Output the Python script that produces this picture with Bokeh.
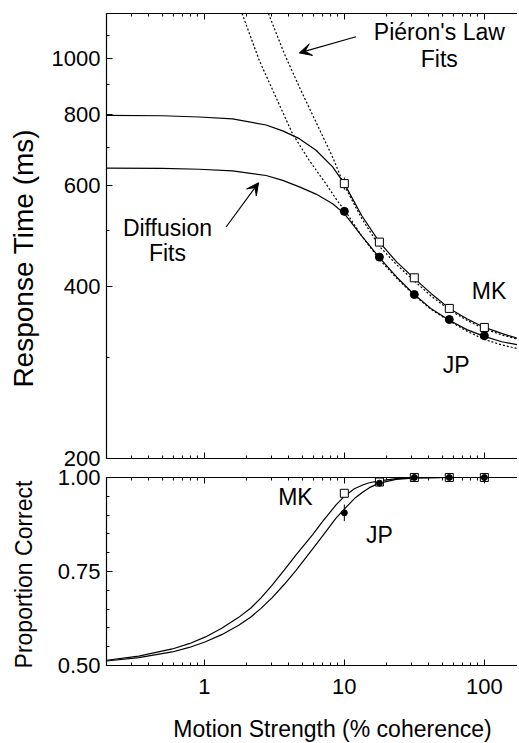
from math import pi
from bokeh.plotting import figure
from bokeh.models import (FixedTicker, Label, Arrow, VeeHead, LogAxis,
                          LinearAxis, Range1d, LinearScale)
from bokeh.embed import file_html
from bokeh.resources import INLINE

FONT = "Liberation Sans"

# ---------------- data ----------------
coherence = [10, 17.8, 31.6, 56.2, 100]
mk_rt = [605, 478, 414, 366, 339]
jp_rt = [541, 450, 387, 350, 328]
mk_rt_err = [15, 8, 5, 4, 3]
jp_rt_err = [9, 6, 4, 3, 3]

mk_pc = [0.958, 0.988, 1.0, 1.0, 1.0]
jp_pc = [0.906, 0.985, 1.0, 1.0, 1.0]
mk_pc_err = [0.008, 0.004, 0.0, 0.0, 0.0]
jp_pc_err = [0.022, 0.005, 0.0, 0.0, 0.0]

diff_x = [0.2, 0.5, 0.92, 1.59, 2.76, 3.63, 4.77, 6.28, 8.25, 10, 13.3, 17.8,
          23.7, 31.6, 42, 56.2, 75, 100, 133, 175]
mk_diffusion = [796, 795, 791, 785, 766, 748, 725, 692, 647, 605, 532, 478,
                441, 413, 388, 366, 351, 339, 331, 324]
jp_diffusion = [644, 643, 641, 637, 625, 613, 597, 580, 558, 536, 490, 449,
                415, 387, 365, 349, 336, 327, 320, 316]

mk_pieron_x = [2.87, 3.73, 4.9, 6.45, 8.25, 10, 13.3, 17.8, 23.7, 31.6, 42,
               56.2, 75, 100, 133, 175]
mk_pieron = [1200, 1020, 880, 764, 673, 600, 526, 470, 436, 409, 384, 364,
             349, 337, 329, 323]
jp_pieron_x = [1.86, 2.47, 3.25, 4.27, 5.62, 7.4, 9.21, 10, 13.3, 17.8, 23.7,
               31.6, 42, 56.2, 75, 100, 133, 175]
jp_pieron = [1200, 993, 856, 739, 664, 604, 558, 545, 490, 446, 413, 386, 364,
             348, 334, 323, 316, 311]

psy_x = [0.2, 0.34, 0.59, 0.78, 1.02, 1.33, 1.76, 2.15, 2.54, 3.04, 3.73, 4.52,
         5.94, 7.0, 8.72, 10, 11.8, 13.5, 15.1, 17.8, 23.4, 32, 56, 175]
mk_psy = [0.514, 0.525, 0.544, 0.558, 0.576, 0.599, 0.628, 0.653, 0.680,
          0.713, 0.754, 0.794, 0.848, 0.883, 0.927, 0.950, 0.970, 0.980,
          0.986, 0.991, 0.997, 0.999, 1.0, 1.0]
jp_psy = [0.512, 0.521, 0.536, 0.548, 0.563, 0.582, 0.607, 0.629, 0.652,
          0.680, 0.716, 0.753, 0.810, 0.845, 0.892, 0.916, 0.944, 0.961,
          0.973, 0.985, 0.995, 0.999, 1.0, 1.0]

rt_tick_vals = [200, 400, 600, 800, 1000]
rt_tick_labels = ["200", "400", "600", "800", "1000"]
rt_minor_vals = [300, 500, 700, 900, 1100]
pc_tick_vals = [0.5, 0.75, 1.0]
pc_tick_labels = ["0.50", "0.75", "1.00"]
pc_minor_vals = [0.55, 0.6, 0.65, 0.7, 0.8, 0.85, 0.9, 0.95]
x_tick_vals = [1, 10, 100]
x_tick_labels = ["1", "10", "100"]
x_minor_vals = [0.2, 0.3, 0.4, 0.5, 0.6, 0.7, 0.8, 0.9, 2, 3, 4, 5, 6, 7, 8, 9,
                20, 30, 40, 50, 60, 70, 80, 90]

# panel limits
X_MIN, X_MAX = 0.2, 172.5
RT_MIN, RT_MAX = 200, 1200
PC_MIN, PC_MAX = 0.5, 1.0

# ---------------- helpers ----------------
TICK_FS = "22px"
TEXT_FS = "23px"


def style_axis(ax, ticks, minor, labels=None, standoff=6):
    ax.ticker = FixedTicker(ticks=ticks, minor_ticks=minor)
    ax.major_tick_in = 6
    ax.major_tick_out = 0
    ax.minor_tick_in = 3
    ax.minor_tick_out = 0
    ax.axis_line_color = "black"
    ax.axis_line_width = 1.2
    ax.major_tick_line_color = "black"
    ax.minor_tick_line_color = "black"
    ax.major_label_text_font = FONT
    if labels is not None:
        ax.major_label_overrides = {t: l for t, l in zip(ticks, labels)}
        ax.major_label_text_font_size = TICK_FS
        ax.major_label_text_color = "black"
        ax.major_label_standoff = standoff
    else:
        ax.major_label_text_font_size = "1px"
        ax.major_label_text_color = None
        ax.major_label_standoff = 0


# The frame covers the whole canvas; both panels live in it, each on its
# own y range (response time: log, default; proportion correct: linear "pc").
p = figure(frame_width=517, frame_height=742, x_axis_type="log",
           y_axis_type="log", x_axis_location=None, y_axis_location=None,
           x_range=Range1d(0.035, X_MAX), y_range=Range1d(63.73, 1264.6),
           output_backend="svg", toolbar_location=None,
           min_border_left=0, min_border_right=0, min_border_top=0,
           min_border_bottom=0)
p.title.visible = False
p.extra_y_ranges = {"pc": Range1d(0.2952, 2.2686)}
p.extra_y_scales = {"pc": LinearScale()}
p.outline_line_color = None
p.grid.visible = False

# ---- axes (all at fixed data locations inside the frame) ----
rt_left = LogAxis(fixed_location=X_MIN, bounds=(RT_MIN, RT_MAX))
style_axis(rt_left, rt_tick_vals, rt_minor_vals, rt_tick_labels, standoff=6)
p.add_layout(rt_left, "left")

pc_left = LinearAxis(y_range_name="pc", fixed_location=X_MIN,
                     bounds=(PC_MIN, PC_MAX))
style_axis(pc_left, pc_tick_vals, pc_minor_vals, pc_tick_labels, standoff=6)
p.add_layout(pc_left, "left")

rt_top = LogAxis(fixed_location=RT_MAX, bounds=(X_MIN, X_MAX))
style_axis(rt_top, x_tick_vals, x_minor_vals, None)
p.add_layout(rt_top, "above")

rt_bottom = LogAxis(fixed_location=RT_MIN, bounds=(X_MIN, X_MAX))
style_axis(rt_bottom, x_tick_vals, x_minor_vals, None)
p.add_layout(rt_bottom, "below")

pc_top = LogAxis(fixed_location=PC_MAX, y_range_name="pc",
                 bounds=(X_MIN, X_MAX))
style_axis(pc_top, x_tick_vals, x_minor_vals, None)
p.add_layout(pc_top, "above")

pc_bottom = LogAxis(fixed_location=PC_MIN, y_range_name="pc",
                    bounds=(X_MIN, X_MAX))
style_axis(pc_bottom, x_tick_vals, x_minor_vals, x_tick_labels, standoff=14)
p.add_layout(pc_bottom, "below")

# ---- axis titles ----
p.add_layout(Label(x=0.0511, y=448, text="Response Time (ms)", angle=pi / 2,
                   text_font=FONT, text_font_size="28px", text_align="center",
                   text_baseline="middle", text_color="black"))
p.add_layout(Label(x=0.0511, y=0.742, y_range_name="pc",
                   text="Proportion Correct", angle=pi / 2, text_font=FONT,
                   text_font_size=TEXT_FS, text_align="center",
                   text_baseline="middle", text_color="black"))
p.add_layout(Label(x=8.23, y=0.332, y_range_name="pc",
                   text="Motion Strength (% coherence)", text_font=FONT,
                   text_font_size=TEXT_FS, text_align="center",
                   text_baseline="middle", text_color="black"))

# ---- top panel: response time ----
p.line(diff_x, mk_diffusion, line_color="black", line_width=1.2)
p.line(diff_x, jp_diffusion, line_color="black", line_width=1.2)
p.line(mk_pieron_x, mk_pieron, line_color="black", line_width=1.2,
       line_dash="2 2")
p.line(jp_pieron_x, jp_pieron, line_color="black", line_width=1.2,
       line_dash="2 2")

p.segment(coherence, [v - e for v, e in zip(mk_rt, mk_rt_err)],
          coherence, [v + e for v, e in zip(mk_rt, mk_rt_err)],
          line_color="black", line_width=1)
p.segment(coherence, [v - e for v, e in zip(jp_rt, jp_rt_err)],
          coherence, [v + e for v, e in zip(jp_rt, jp_rt_err)],
          line_color="black", line_width=1)
p.scatter(coherence, mk_rt, marker="square", size=8, fill_color="white",
          line_color="black", line_width=1)
p.scatter(coherence, jp_rt, marker="circle", size=8, fill_color="black",
          line_color="black")

for txt, x, y in [("Piéron's Law", 47.7, 1112), ("Fits", 47.7, 1000),
                  ("Diffusion", 0.545, 505), ("Fits", 0.545, 458),
                  ("MK", 108, 393), ("JP", 63, 291)]:
    p.add_layout(Label(x=x, y=y, text=txt, text_font=FONT,
                       text_font_size=TEXT_FS, text_align="center",
                       text_baseline="middle", text_color="black"))

p.add_layout(Arrow(end=VeeHead(size=12, fill_color="black",
                               line_color="black"),
                   x_start=12.1, y_start=1093, x_end=4.77, y_end=1024,
                   line_color="black", line_width=1.2))
p.add_layout(Arrow(end=VeeHead(size=12, fill_color="black",
                               line_color="black"),
                   x_start=1.43, y_start=508, x_end=2.44, y_end=607,
                   line_color="black", line_width=1.2))

# ---- bottom panel: proportion correct ----
p.line(psy_x, mk_psy, y_range_name="pc", line_color="black", line_width=1.2)
p.line(psy_x, jp_psy, y_range_name="pc", line_color="black", line_width=1.2)

p.segment(coherence, [v - e for v, e in zip(mk_pc, mk_pc_err)],
          coherence, [v + e for v, e in zip(mk_pc, mk_pc_err)],
          y_range_name="pc", line_color="black", line_width=1)
p.segment(coherence, [v - e for v, e in zip(jp_pc, jp_pc_err)],
          coherence, [v + e for v, e in zip(jp_pc, jp_pc_err)],
          y_range_name="pc", line_color="black", line_width=1)
p.scatter(coherence, mk_pc, y_range_name="pc", marker="square", size=8,
          fill_color="white", line_color="black", line_width=1)
p.scatter(coherence, jp_pc, y_range_name="pc", marker="circle", size=6,
          fill_color="black", line_color="black")

for txt, x, y in [("MK", 4.47, 0.947), ("JP", 17.8, 0.846)]:
    p.add_layout(Label(x=x, y=y, y_range_name="pc", text=txt, text_font=FONT,
                       text_font_size=TEXT_FS, text_align="center",
                       text_baseline="middle", text_color="black"))

open("out.html", "w").write(file_html(p, INLINE))
